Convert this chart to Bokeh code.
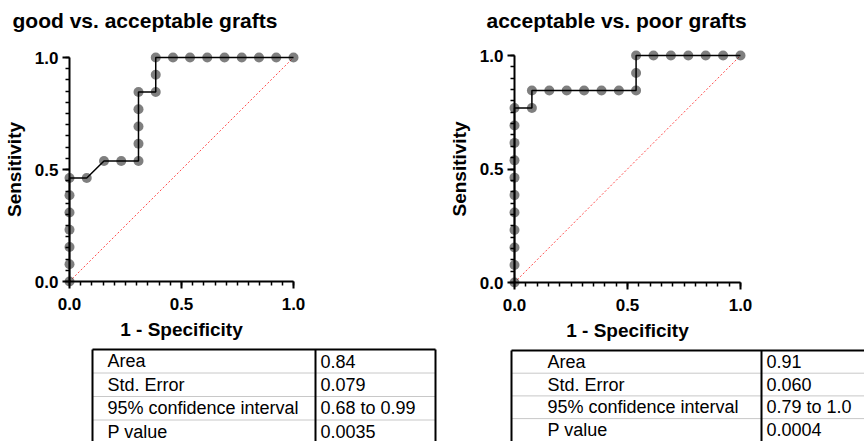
import numpy as np
from bokeh.plotting import figure
from bokeh.models import Range1d, FixedTicker, PrintfTickFormatter
from bokeh.layouts import row, column
from bokeh.embed import file_html
from bokeh.resources import INLINE
from bokeh.core.properties import value

# ---------------- data ----------------
left_title = "good  vs.  acceptable grafts"
right_title = "acceptable  vs.  poor grafts"
x_label = "1 - Specificity"
y_label = "Sensitivity"

left_fpr = [0, 0, 0, 0, 0, 0, 0, 0.077, 0.154, 0.231, 0.308, 0.308, 0.308, 0.308, 0.308,
            0.385, 0.385, 0.385, 0.462, 0.538, 0.615, 0.692, 0.769, 0.846, 0.923, 1.0]
left_tpr = [0, 0.077, 0.154, 0.231, 0.308, 0.385, 0.462, 0.462, 0.538, 0.538, 0.538, 0.615,
            0.692, 0.769, 0.846, 0.846, 0.923, 1.0, 1.0, 1.0, 1.0, 1.0, 1.0, 1.0, 1.0, 1.0]

right_fpr = [0, 0, 0, 0, 0, 0, 0, 0, 0, 0, 0, 0.077, 0.077, 0.154, 0.231, 0.308, 0.385, 0.462,
             0.538, 0.538, 0.538, 0.615, 0.692, 0.769, 0.846, 0.923, 1.0]
right_tpr = [0, 0.077, 0.154, 0.231, 0.308, 0.385, 0.462, 0.538, 0.615, 0.692, 0.769, 0.769,
             0.846, 0.846, 0.846, 0.846, 0.846, 0.846, 0.846, 0.923, 1.0, 1.0, 1.0, 1.0, 1.0, 1.0, 1.0]

chance_x = [0, 1]
chance_y = [0, 1]

major_ticks = [0, 0.5, 1.0]

table_labels = ["Area", "Std. Error", "95% confidence interval", "P value"]
left_values = ["0.84", "0.079", "0.68 to 0.99", "0.0035"]
right_values = ["0.91", "0.060", "0.79 to 1.0", "0.0004"]

FONT = "Liberation Sans"
minor = [round(v, 2) for v in np.arange(0, 1.0001, 0.05)]


def roc_fig(title, xs, ys, borders, frame, title_dx, title_dy):
    bl, br, bt, bb = borders
    fw, fh = frame
    p = figure(frame_width=fw, frame_height=fh,
               min_border_left=bl, min_border_right=br,
               min_border_top=bt, min_border_bottom=bb,
               x_range=Range1d(0, 1), y_range=Range1d(0, 1),
               toolbar_location=None, output_backend="svg", frame_align=False)
    p.outline_line_color = None
    p.grid.visible = False
    for ax in (p.xaxis[0], p.yaxis[0]):
        ax.ticker = FixedTicker(ticks=major_ticks, minor_ticks=minor)
        ax.formatter = PrintfTickFormatter(format="%.1f")
        ax.axis_line_width = 2
        ax.axis_line_color = "black"
        ax.major_tick_line_width = 2
        ax.major_tick_out = 7
        ax.major_tick_in = 0
        ax.minor_tick_line_width = 1.5
        ax.minor_tick_out = 4
        ax.minor_tick_in = 0
        ax.major_label_text_font = FONT
        ax.major_label_text_font_style = "bold"
        ax.major_label_text_font_size = "17px"
        ax.major_label_text_color = "black"
        ax.axis_label_text_font = FONT
        ax.axis_label_text_font_style = "bold"
        ax.axis_label_text_font_size = "19px"
        ax.axis_label_text_color = "black"
    p.xaxis.axis_label = x_label
    p.yaxis.axis_label = y_label
    p.xaxis.major_label_standoff = 9
    p.xaxis.axis_label_standoff = 6
    p.yaxis.major_label_standoff = 4
    p.yaxis.axis_label_standoff = 7
    p.line(chance_x, chance_y, line_color="red", line_width=1, line_dash="2 2", line_alpha=0.7)
    p.line(xs, ys, line_color="black", line_width=1.5, level="overlay")
    p.scatter(xs, ys, size=10, fill_color="black", fill_alpha=0.5, line_color=None, level="overlay")
    # chart title, placed by a pixel offset from the axis origin (unclipped overlay level)
    p.text(x=[title_dx / fw], y=[1 + title_dy / fh], text=[title], text_font=value(FONT),
           text_font_size="21px", text_font_style="bold", text_color="black",
           text_baseline="middle", text_align="left", level="overlay")
    return p


def table_fig(width, height, left, divider, right, top, rowh, labels, vals, indent, vindent,
              draw_right, draw_bottom):
    t = figure(width=width, height=height, x_range=Range1d(0, width), y_range=Range1d(height, 0),
               toolbar_location=None, output_backend="svg", x_axis_type=None, y_axis_type=None,
               min_border=0, frame_align=False)
    t.outline_line_color = None
    t.grid.visible = False
    n = len(labels)
    bottom = top + n * rowh
    seps = [top + i * rowh for i in range(1, n)]
    t.segment(x0=[left] * len(seps), y0=seps, x1=[right] * len(seps), y1=seps,
              line_color="#c8c8c8", line_width=1)
    hx0 = [left]
    hy = [top]
    if draw_bottom:
        hx0.append(left)
        hy.append(bottom)
    t.segment(x0=hx0, y0=hy, x1=[right] * len(hy), y1=hy, line_color="black", line_width=2)
    vx = [left, divider] + ([right] if draw_right else [])
    t.segment(x0=vx, y0=[top] * len(vx), x1=vx, y1=[bottom] * len(vx), line_color="black",
              line_width=2)
    ys = [top + (i + 0.5) * rowh for i in range(n)]
    t.text(x=[left + indent] * n, y=ys, text=labels, text_baseline="middle",
           text_font=value(FONT), text_font_size="18px", text_color="black")
    t.text(x=[divider + vindent] * n, y=ys, text=vals, text_baseline="middle",
           text_font=value(FONT), text_font_size="18px", text_color="black")
    return t


# left column: x 0..445 ; right column: x 445..864
p1 = roc_fig(left_title, left_fpr, left_tpr, (69, 152, 57, 57), (224, 224), -57, 37)
t1 = table_fig(445, 103, 92, 315, 435, 7, 23.5, table_labels, left_values, 15, 5, True, True)
p2 = roc_fig(right_title, right_fpr, right_tpr, (67, 126, 55, 62), (226, 227), -28, 35)
t2 = table_fig(419, 97, 66, 316, 440, 6, 22.7, table_labels, right_values, 36, 5, False, False)

layout = row(column(p1, t1), column(p2, t2))
open("out.html", "w").write(file_html(layout, INLINE))
